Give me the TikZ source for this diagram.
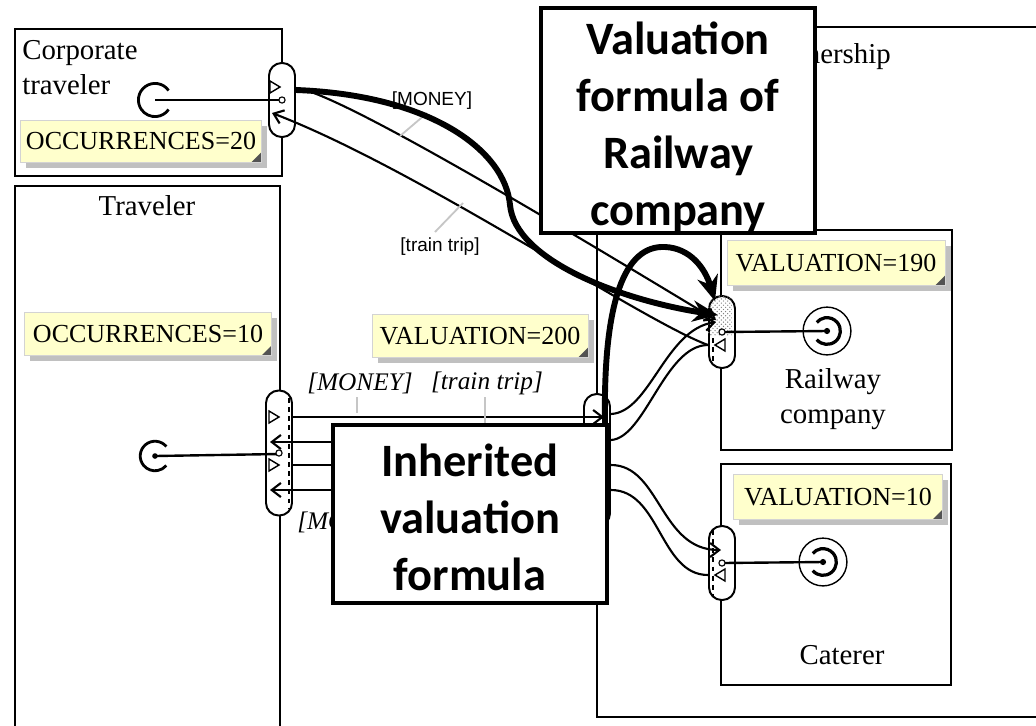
\documentclass[tikz,border=0pt]{standalone}
\usepackage{fontspec}
\setmainfont{Liberation Serif}
\newfontfamily\calloutfont{Carlito}
\newfontfamily\tagfont{Liberation Sans}
\usetikzlibrary{arrows.meta, shadows, calc, patterns}
\definecolor{notefill}{HTML}{FFFFCC}
\definecolor{noteshade}{HTML}{C0C0C0}
\newcommand{\pxu}{0.025cm}

\begin{document}
\begin{tikzpicture}[x=\pxu, y=-\pxu,
    part/.style={draw, line width=1.8pt, fill=white, inner sep=0pt},
    title/.style={inner sep=0pt, align=center, font=\fontsize{20.5}{25}\selectfont},
    note/.style={fill=notefill, draw=noteshade!70, line width=0.4pt, inner sep=0pt,
        font=\fontsize{18.5}{20}\selectfont,
        drop shadow={shadow xshift=4pt, shadow yshift=-4pt, fill=noteshade, opacity=1},
        path picture={\fill[gray!65!black] (path picture bounding box.south east) -- ++(0,7pt) -- ++(-7pt,-7pt) -- cycle;}},
    port/.style={draw, fill=white, line width=1.4pt, rounded corners=9pt, minimum width=26*\pxu, inner sep=0pt},
    roleline/.style={line width=1.7pt},
    flowline/.style={line width=1.5pt},
    flowin/.style={line width=1.5pt, -{Straight Barb[length=6.5pt, width=10pt]}},
    portdash/.style={line width=1.4pt, dash pattern=on 3.5pt off 3pt},
    highlight/.style={line width=4.2pt, -{Stealth[length=18pt, width=15pt]}},
    callout/.style={draw, line width=2.8pt, fill=white, inner sep=0pt},
    callouttext/.style={inner sep=0pt, align=center,
        font=\calloutfont\bfseries\fontsize{33}{40.5}\selectfont},
    tag/.style={inner sep=0pt, font=\tagfont\fontsize{13.5}{16}\selectfont},
    itag/.style={inner sep=0pt, font=\itshape\fontsize{18}{20}\selectfont},
    leader/.style={draw=gray!45, line width=1.3pt},
    outmark/.pic={\draw[line width=1pt] (-4,-6) -- (6,0) -- (-4,6) -- cycle;}]
    \path[use as bounding box] (0,0) rectangle (1036,725);
    \clip (0,0) rectangle (1036,725);

    % Parts and their names
    \node[part, minimum width=463*\pxu, minimum height=690*\pxu] (partner) at (828.5,372) {};
    \node[title, anchor=base east] (partnerName) at (891,63) {Partnership};
    \node[part, minimum width=267*\pxu, minimum height=147*\pxu] (corp) at (148.5,102.5) {};
    \node[title, anchor=north west, align=left] (corpName) at (22,40) {Corporate\\traveler};
    \node[part, minimum width=265*\pxu, minimum height=580*\pxu] (trav) at (147.5,476) {};
    \node[title] (travName) at (147,206) {Traveler};
    \node[part, minimum width=231*\pxu, minimum height=220*\pxu] (rail) at (836.5,340) {};
    \node[title, anchor=north] (railName) at (833,368) {Railway\\company};
    \node[part, minimum width=230*\pxu, minimum height=221*\pxu] (cat) at (836,574.5) {};
    \node[title, anchor=north] (catName) at (842,645) {Caterer};

    % Tagged values
    \node[note, minimum width=241*\pxu, minimum height=42*\pxu] (occCorp) at (141,141) {OCCURRENCES=20};
    \node[note, minimum width=247*\pxu, minimum height=43*\pxu] (occTrav) at (148,334) {OCCURRENCES=10};
    \node[note, minimum width=216*\pxu, minimum height=43*\pxu] (valTrav) at (480,336) {VALUATION=200};
    \node[note, minimum width=218*\pxu, minimum height=45*\pxu] (valRail) at (836,263) {VALUATION=190};
    \node[note, minimum width=209*\pxu, minimum height=45*\pxu] (valCat) at (838,497) {VALUATION=10};

    % Ports
    \node[port, minimum height=74*\pxu] (corpPort) at (282,100) {};
    \node[port, minimum height=125*\pxu] (travPort) at (279,453) {};
    \node[port, minimum height=132*\pxu] (linkPort) at (597,460) {};
    \node[port, minimum height=72*\pxu] (railPort) at (722,332) {};
    \node[port, minimum height=74*\pxu] (catPort) at (722,563) {};
    \begin{scope}
        \clip[rounded corners=9pt] (railPort.south west) rectangle (railPort.north east);
        \fill[pattern=crosshatch dots, pattern color=gray] (railPort.north west) rectangle ($(railPort.east)+(-4,3)$);
    \end{scope}
    \draw[portdash] (289,398) -- (289,508);
    \draw[portdash] (606,400) -- (606,520);
    \draw[portdash] (713,338) -- (713,365);
    \draw[portdash] (713,530) -- (713,596);

    % Roles
    \coordinate (corpRole) at (155,100);
    \coordinate (travRole) at (155,456);
    \coordinate (railRole) at (827,331);
    \coordinate (catRole) at (823,562);
    \draw[line width=2pt] ($(corpRole)+(35:11.8pt)$) arc[start angle=35, end angle=325, radius=11.8pt];
    \draw[line width=2pt] ($(travRole)+(40:10.5pt)$) arc[start angle=40, end angle=320, radius=10.5pt];
    \fill (travRole) circle (2pt);
    \foreach \r in {railRole, catRole} {
        \draw[line width=1pt] (\r) circle (17pt);
        \draw[line width=2.3pt] ($(\r)+(-140:9.5pt)$) arc[start angle=-140, end angle=140, radius=9.5pt];
        \fill (\r) circle (2.2pt);
    }
    \draw[roleline] (corpRole) -- (corpPort.center);
    \draw[roleline] (travRole) -- ($(travPort.center)+(0,1)$);
    \draw[roleline] (railRole) -- (railPort.center);
    \draw[roleline] (catRole) -- (catPort.center);
    \foreach \p in {corpPort, travPort, railPort, catPort}
        \draw[line width=0.8pt, fill=white] (\p.center) circle (2.2pt);

    % Flows between ports
    \draw[flowin] ($(corpPort.east)+(0,-12)$) .. controls (340,92) and (600,250) .. ($(railPort.center)+(-6,-12)$); % money
    \draw[flowin] ($(railPort.west)+(0,13)$) .. controls (640,320) and (420,170) .. ($(corpPort.center)+(-10,13)$); % train trip
    \draw[flowin] ($(travPort.east)+(0,-36)$) -- ($(linkPort.center)+(7,-43)$);
    \draw[flowin] ($(linkPort.west)+(0,-18)$) -- ($(travPort.center)+(-9,-11)$);
    \draw[flowline] ($(travPort.east)+(0,12)$) -- ($(linkPort.west)+(0,5)$);
    \draw[flowin] ($(linkPort.west)+(0,30)$) -- ($(travPort.center)+(-9,37)$);
    \draw[flowin] ($(linkPort.east)+(0,-46)$) .. controls (650,412) and (665,330) .. ($(railPort.center)+(-6,-10)$);
    \draw[flowline] ($(linkPort.east)+(0,-20)$) .. controls (645,438) and (665,345) .. ($(railPort.west)+(0,13)$);
    \draw[flowin] ($(linkPort.east)+(0,5)$) .. controls (660,465) and (660,550) .. ($(catPort.center)+(-1,-13)$);
    \draw[flowline] ($(catPort.west)+(0,12)$) .. controls (660,575) and (660,490) .. ($(linkPort.east)+(0,30)$);
    \pic at (274,87) {outmark};
    \pic at (273,417) {outmark};
    \pic at (273,465) {outmark};
    \pic[rotate=180] at (721,345) {outmark};
    \pic[rotate=180] at (721,575) {outmark};

    % Item labels
    \node[tag] (moneyTag) at (432,101) {[MONEY]};
    \node[tag] (tripTag) at (440,247) {[train trip]};
    \draw[leader] (427,113) -- (400,136);
    \draw[leader] (435,232) -- (463,203);
    \node[itag] (moneyTop) at (360,383) {[MONEY]};
    \node[itag] (tripTop) at (487,383) {[train trip]};
    \node[itag, anchor=west] (moneyLow) at (297,522) {[MONEY]};
    \draw[leader] (357,397) -- (357,413);
    \draw[leader] (485,397) -- (485,425);

    % Valuation paths
    \draw[highlight] ($(corpPort.east)+(0,-10)$) .. controls (430,95) and (505,150) .. (510,205)
        .. controls (515,260) and (620,300) .. ($(railPort.north)+(-4,20)$);
    \draw[highlight] ($(linkPort.north)+(8,30)$) .. controls (603,300) and (625,245) .. (665,247)
        .. controls (690,248) and (705,268) .. ($(railPort.north)+(-7,6)$);

    % Callouts
    \node[callout, minimum width=274*\pxu, minimum height=225*\pxu] (railFormula) at (678,120.5) {};
    \node[callouttext] (railFormulaText) at (678,127) {Valuation\\formula of\\Railway\\company};
    \node[callout, minimum width=274*\pxu, minimum height=178*\pxu] (inhFormula) at (470,514) {};
    \node[callouttext] (inhFormulaText) at (470,517) {Inherited\\valuation\\formula};
\end{tikzpicture}
\end{document}
